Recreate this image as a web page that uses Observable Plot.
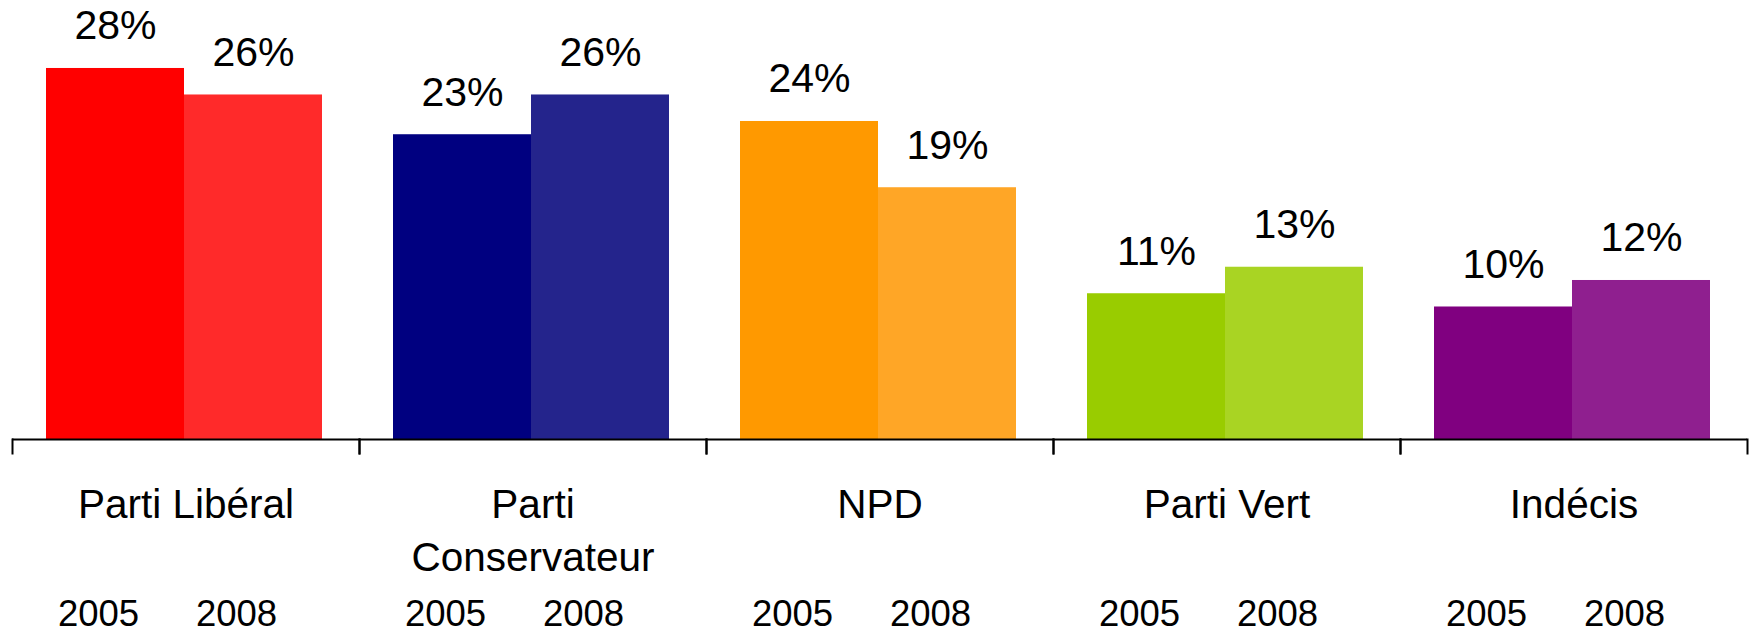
<!DOCTYPE html>
<html><head><meta charset="utf-8">
<script src="https://cdn.jsdelivr.net/npm/d3@7"></script>
<script src="https://cdn.jsdelivr.net/npm/@observablehq/plot@0.6"></script>
<style>html,body{margin:0;padding:0;background:#fff;} #chart svg{display:block;}</style>
</head><body><div id="chart"></div>
<script>
const parties = ["Parti Libéral", "Parti Conservateur", "NPD", "Parti Vert", "Indécis"];
const years = ["2005", "2008"];
const values2005 = [28, 23, 24, 11, 10];
const values2008 = [26, 26, 19, 13, 12];
const colors2005 = ["#ff0000", "#000080", "#ff9900", "#99cc00", "#800080"];
const colors2008 = ["#ff2a2a", "#24248c", "#ffa626", "#a9d423", "#8f1f8f"];

const table = parties.flatMap((p, i) => [
  {party: p, year: "2005", value: values2005[i], key: p + "|2005"},
  {party: p, year: "2008", value: values2008[i], key: p + "|2008"}
]);
const colorRange = parties.flatMap((p, i) => [colors2005[i], colors2008[i]]);

const W = 1756, H = 633, MT = 0, MB = 194, ML = 10, MR = 8;
const font = "'Liberation Sans', Arial, Helvetica, sans-serif";

const plot = Plot.plot({
  width: W, height: H,
  marginTop: MT, marginBottom: MB, marginLeft: ML, marginRight: MR,
  style: {fontFamily: font, background: "#fff", color: "#000", overflow: "visible"},
  facet: {data: table, x: "party", marginTop: 0, marginBottom: 0, marginLeft: 0, marginRight: 0},
  fx: {domain: parties, padding: 0, axis: null, label: null},
  x: {domain: years, paddingInner: 0, paddingOuter: 0.256, align: 0.48, axis: null, label: null},
  y: {domain: [0, 33.13], axis: null, label: null},
  color: {type: "ordinal", domain: table.map(d => d.key), range: colorRange},
  marks: [
    Plot.barY(table, {x: "year", y: "value", fill: "key"}),
    Plot.ruleY([0], {stroke: "#000", strokeWidth: 2}),
    Plot.frame({anchor: "left", stroke: "#000", strokeWidth: 2, insetTop: H - MB - MT, insetBottom: -14}),
    Plot.frame({anchor: "right", stroke: "#000", strokeWidth: 2, insetTop: H - MB - MT, insetBottom: -14}),
    Plot.text(table, {x: "year", y: "value", text: d => d.value + "%", lineAnchor: "bottom", dy: -29, fontSize: 41, fill: "#000"}),
    Plot.text(table, {filter: d => d.year === "2005", text: "party", frameAnchor: "bottom", lineAnchor: "top", dy: 41, fontSize: 40.5, lineWidth: 6.6, lineHeight: 1.3, fill: "#000"}),
    Plot.text(table, {x: "year", text: "year", frameAnchor: "bottom", lineAnchor: "bottom", dy: 186, dx: -17, fontSize: 36.5, fill: "#000"})
  ]
});
document.getElementById("chart").appendChild(plot);
</script>
</body></html>
